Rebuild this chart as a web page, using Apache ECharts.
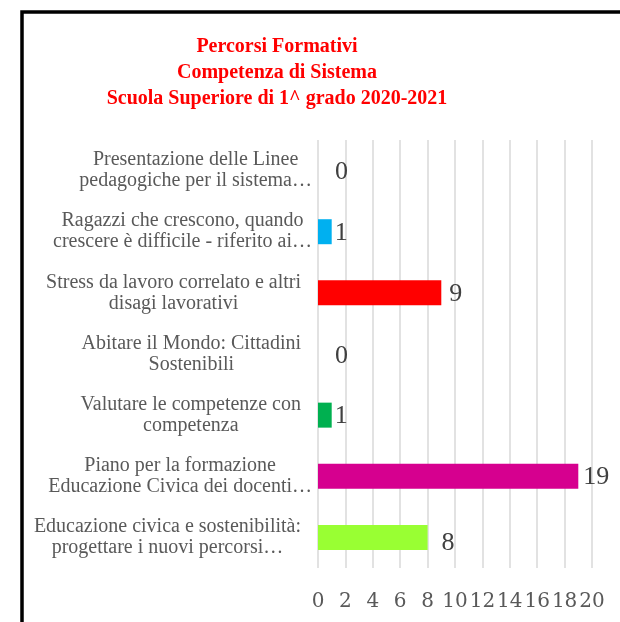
<!DOCTYPE html>
<html>
<head>
<meta charset="utf-8">
<script src="https://cdn.jsdelivr.net/npm/echarts@6/dist/echarts.min.js"></script>
<style>
html, body { margin: 0; padding: 0; background: #fff; }
#chart { width: 620px; height: 622px; }
</style>
</head>
<body>
<div id="chart"></div>
<script>
var titleLines = ['Percorsi Formativi', 'Competenza di Sistema', 'Scuola Superiore di 1^ grado 2020-2021'];
var categories = [
    'Presentazione delle Linee\npedagogiche per il sistema…',
    'Ragazzi che crescono, quando\ncrescere è difficile - riferito ai…',
    'Stress da lavoro correlato e altri\ndisagi lavorativi',
    'Abitare il Mondo: Cittadini\nSostenibili',
    'Valutare le competenze con\ncompetenza',
    'Piano per la formazione\nEducazione Civica dei docenti…',
    'Educazione civica e sostenibilità:\nprogettare i nuovi percorsi…'
];
var values = [0, 1, 9, 0, 1, 19, 8];
var barColors = ['#FFC000', '#00B0F0', '#FF0000', '#7030A0', '#00B050', '#D6008F', '#99FF33'];
// where Excel put each data label (gap from bar end, vertical nudge)
var labelGap = [17, 3, 8, 17, 3, 5, 14];
var labelNudge = [2, 1, 1, 2, 1, 1, 6];
var xTicks = [0, 2, 4, 6, 8, 10, 12, 14, 16, 18, 20];

var catFont = '20px "Liberation Serif"';
var measureCtx = document.createElement('canvas').getContext('2d');
measureCtx.font = catFont;

var chart = echarts.init(document.getElementById('chart'));

var seriesData = [];
for (var i = 0; i < values.length; i++) {
    seriesData.push({
        value: values[i],
        itemStyle: { color: barColors[i] },
        label: { distance: labelGap[i], offset: [0, labelNudge[i]] }
    });
}

// Excel lets the "…" line overflow its box, other labels stay a bit further left
function catLabel(v) {
    var lines = v.split('\n');
    var widest = lines[0];
    lines.forEach(function (s) {
        if (measureCtx.measureText(s).width > measureCtx.measureText(widest).width) widest = s;
    });
    var tag = widest.charAt(widest.length - 1) === '…' ? 'c' : 'p';
    return lines.map(function (s) { return '{' + tag + '|' + s + '}'; }).join('\n');
}

var option = {
    backgroundColor: '#fff',
    animation: false,
    title: {
        text: titleLines.join('\n'),
        left: 272,
        top: 29,
        textAlign: 'center',
        textStyle: {
            color: '#FF0000',
            fontFamily: 'Liberation Serif',
            fontWeight: 'bold',
            fontSize: 20,
            lineHeight: 26
        }
    },
    graphic: [{
        type: 'rect',
        shape: { x: 22, y: 12, width: 700, height: 700 },
        style: { fill: 'none', stroke: '#000', lineWidth: 3.5 },
        silent: true
    }],
    grid: {
        left: 318,
        right: 28,
        top: 140,
        bottom: 54,
        containLabel: false
    },
    xAxis: {
        type: 'value',
        min: 0,
        max: 20,
        interval: 2,
        axisLine: { show: false },
        axisTick: { show: false },
        splitLine: { show: true, lineStyle: { color: '#D9D9D9', width: 1.5 } },
        axisLabel: {
            margin: 24,
            color: '#595959',
            fontFamily: 'DejaVu Serif',
            fontSize: 20,
            formatter: function (v) { return xTicks.indexOf(v) >= 0 ? String(v) : ''; }
        }
    },
    yAxis: {
        type: 'category',
        inverse: true,
        data: categories,
        axisLine: { show: false },
        axisTick: { show: false },
        axisLabel: {
            margin: 6,
            align: 'right',
            color: '#595959',
            fontFamily: 'Liberation Serif',
            fontSize: 20,
            lineHeight: 21,
            formatter: catLabel,
            rich: {
                c: {
                    align: 'center',
                    color: '#595959',
                    fontFamily: 'Liberation Serif',
                    fontSize: 20,
                    lineHeight: 21
                },
                p: {
                    align: 'center',
                    color: '#595959',
                    fontFamily: 'Liberation Serif',
                    fontSize: 20,
                    lineHeight: 21,
                    padding: [0, 11, 0, 0]
                }
            }
        }
    },
    series: [{
        type: 'bar',
        data: seriesData,
        barWidth: 25,
        label: {
            show: true,
            position: 'right',
            color: '#404040',
            fontFamily: 'Liberation Serif',
            fontSize: 26,
            formatter: '{c}'
        }
    }]
};

chart.setOption(option);
</script>
</body>
</html>
